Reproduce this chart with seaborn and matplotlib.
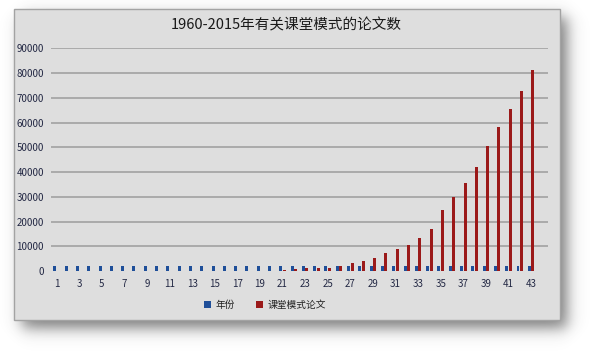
import numpy as np
import pandas as pd
import matplotlib
matplotlib.use("Agg")
import matplotlib.pyplot as plt
from matplotlib.patches import Rectangle
import seaborn as sns

# ---------------- data ----------------
categories = [str(i) for i in range(1, 44)]
years = [1973, 1974, 1975, 1976, 1977, 1978, 1979, 1980, 1981, 1982,
         1983, 1984, 1985, 1986, 1987, 1988, 1989, 1990, 1991, 1992,
         1993, 1994, 1995, 1996, 1997, 1998, 1999, 2000, 2001, 2002,
         2003, 2004, 2005, 2006, 2007, 2008, 2009, 2010, 2011, 2012,
         2013, 2014, 2015]
papers = [0, 0, 0, 0, 0, 0, 0, 0, 0, 0,
          0, 0, 0, 0, 0, 0, 0, 0, 0, 0,
          400, 800, 1200, 1200, 1200, 2000, 3200, 4000, 5200, 7200,
          8800, 10500, 13300, 16900, 24600, 29800, 35500, 41900, 50400, 58000,
          65300, 72600, 81400]
series_names = ["年份", "课堂模式论文"]
xtick_labels = [str(i) for i in range(1, 44, 2)]
yticks = [0, 10000, 20000, 30000, 40000, 50000, 60000, 70000, 80000, 90000]
title = "1960-2015年有关课堂模式的论文数"

df = pd.DataFrame({
    "cat": categories * 2,
    "series": [series_names[0]] * len(categories) + [series_names[1]] * len(categories),
    "value": years + papers,
})

# ---------------- style ----------------
sns.set_style("white")
plt.rcParams["font.family"] = ["Noto Sans CJK SC", "DejaVu Sans"]

W, H = 596, 358
fig = plt.figure(figsize=(W / 100, H / 100), dpi=100)
fig.patch.set_facecolor("white")

# shadow (blurred rectangle)
xs = np.arange(W) + 0.5
ys = np.arange(H) + 0.5
s = 9.0
sx0, sx1, sy0, sy1 = 22, 567, 17, 328
fx = 0.5 * (np.tanh((xs - sx0) / s) - np.tanh((xs - sx1) / s))
fy = 0.5 * (np.tanh((ys - sy0) / s) - np.tanh((ys - sy1) / s))
alpha = 0.66 * np.outer(fy, fx)
img = np.zeros((H, W, 4))
img[..., 0] = 0.22
img[..., 1] = 0.22
img[..., 2] = 0.22
img[..., 3] = alpha
fig.figimage(img, xo=0, yo=0, origin="upper", zorder=0)

# panel
px0, px1, py0, py1 = 13.5, 559.5, 9, 319.5
panel = Rectangle((px0 / W, 1 - py1 / H), (px1 - px0) / W, (py1 - py0) / H,
                  transform=fig.transFigure, facecolor="#dedede",
                  edgecolor="#a3a3a3", linewidth=1.0, zorder=1)
fig.patches.append(panel)

# axes
ax_l, ax_r, ax_t, ax_b = 51, 548, 48.3, 271
ax = fig.add_axes([ax_l / W, 1 - ax_b / H, (ax_r - ax_l) / W, (ax_b - ax_t) / H])
ax.set_zorder(2)
ax.set_facecolor("#dedede")

blue = "#1f4f99"
red = "#9b1a1a"
sns.barplot(data=df, x="cat", y="value", hue="series", order=categories,
            hue_order=series_names, palette=[blue, red], width=0.62, gap=0.15,
            saturation=1.0, ax=ax, linewidth=0)

ax.set_xlim(-0.5, len(categories) + 0.5)
ax.set_ylim(0, 90000)
ax.set_yticks(yticks)
ax.set_yticklabels([str(v) for v in yticks])
ax.set_xticks(list(range(0, len(categories), 2)))
ax.set_xticklabels(xtick_labels)
ax.set_xlabel("")
ax.set_ylabel("")
for sp in ax.spines.values():
    sp.set_visible(False)
ax.yaxis.grid(True, color="#aaaaaa", linewidth=1.4)
ax.set_axisbelow(True)
ax.yaxis.get_gridlines()[0].set_visible(False)
ax.tick_params(axis="y", length=0, pad=5, labelsize=7, labelcolor="#232844")
ax.tick_params(axis="x", length=0, pad=6, labelsize=7, labelcolor="#232844")

handles, labels = ax.get_legend_handles_labels()
ax.get_legend().remove()
fig.legend(handles, labels, loc="center", bbox_to_anchor=(265 / W, 1 - 305 / H),
           ncol=2, frameon=False, fontsize=7, handlelength=0.75, handleheight=0.75,
           columnspacing=2.2, handletextpad=0.4, labelcolor="#222222")

fig.text(286 / W, 1 - 25 / H, title, ha="center", va="center", fontsize=10.5,
         color="#1a1a1a")

fig.savefig("out.png", dpi=100, facecolor="white")
